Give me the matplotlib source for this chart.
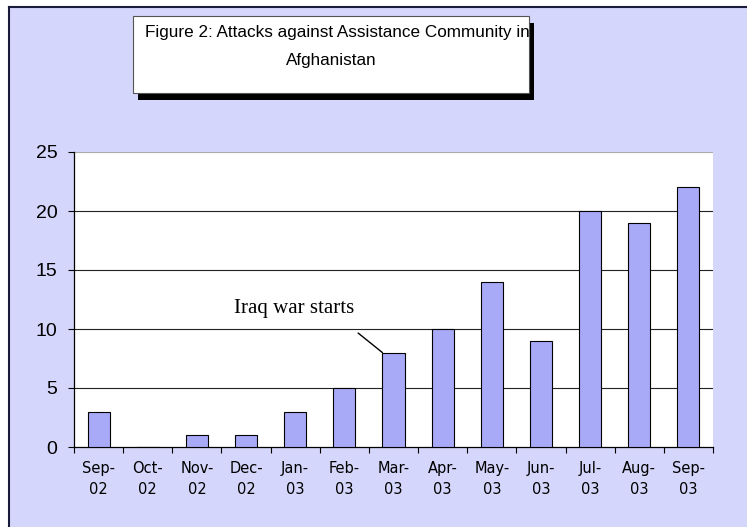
import matplotlib
matplotlib.use('Agg')
import matplotlib.pyplot as plt
from matplotlib.patches import Rectangle
from matplotlib.lines import Line2D

W, H = 747, 527

months = ['Sep-\n02', 'Oct-\n02', 'Nov-\n02', 'Dec-\n02', 'Jan-\n03', 'Feb-\n03', 'Mar-\n03',
          'Apr-\n03', 'May-\n03', 'Jun-\n03', 'Jul-\n03', 'Aug-\n03', 'Sep-\n03']
attacks = [3, 0, 1, 1, 3, 5, 8, 10, 14, 9, 20, 19, 22]
y_ticks = [0, 5, 10, 15, 20, 25]

title_1 = 'Figure 2: Attacks against Assistance Community in'
title_2 = 'Afghanistan'
note = 'Iraq war starts'
note_idx = 6  # Mar-03

BG = '#D5D6FB'
BAR = '#A8AAF8'


def px(x, y):
    # pixel (from top-left) -> figure fraction
    return x / W, 1 - y / H


fig = plt.figure(figsize=(W / 100, H / 100), dpi=100)
fig.patch.set_facecolor('white')

# lavender panel with dark border on left/top
x0, y0 = px(9, H)
fig.patches.append(Rectangle((x0, y0), 1 - x0, 1 - 7 / H - y0, transform=fig.transFigure,
                             facecolor=BG, edgecolor='none', zorder=-3))
fig.add_artist(Line2D([9 / W, 9 / W], [0, 1 - 7 / H], transform=fig.transFigure,
                      color='#1a1a3a', lw=1.5, zorder=-2))
fig.add_artist(Line2D([9 / W, 1], [1 - 7 / H, 1 - 7 / H], transform=fig.transFigure,
                      color='#1a1a3a', lw=1.5, zorder=-2))

# title box with shadow
bx, by = px(133, 93)
bw, bh = 396 / W, 77 / H
fig.patches.append(Rectangle((bx + 5 / W, by - 7 / H), bw, bh, transform=fig.transFigure,
                             facecolor='black', edgecolor='none', zorder=-2))
fig.patches.append(Rectangle((bx, by), bw, bh, transform=fig.transFigure,
                             facecolor='white', edgecolor='#555555', lw=0.8, zorder=-1))
fig.text(337 / W, 1 - 33 / H, title_1, ha='center', va='center', fontsize=12.3,
         family='Liberation Sans', zorder=3)
fig.text(331 / W, 1 - 61 / H, title_2, ha='center', va='center', fontsize=12.3,
         family='Liberation Sans', zorder=3)

ax = fig.add_axes([74 / W, 1 - 447 / H, 639 / W, 295 / H])
ax.set_zorder(5)
ax.set_facecolor('white')

xs = list(range(len(attacks)))
ax.bar(xs, attacks, width=0.45, color=BAR, edgecolor='black', linewidth=0.8, zorder=3)

ax.set_xlim(-0.5, len(attacks) - 0.5)
ax.set_ylim(0, 25)
ax.set_yticks(y_ticks)
for v in y_ticks[1:]:
    ax.axhline(v, color='#aaaaaa' if v == 25 else '#222222', lw=0.8, zorder=1)

ax.set_xticks(xs)
ax.set_xticklabels(months, fontsize=10.5, family='DejaVu Sans', linespacing=1.5)
ax.set_xticks([i - 0.5 for i in range(len(attacks) + 1)], minor=True)
ax.tick_params(axis='x', which='major', length=0, pad=10)
ax.tick_params(axis='x', which='minor', length=4, width=0.8, direction='out')
ax.tick_params(axis='y', length=4, width=0.8, direction='out', pad=8, labelsize=14)
for lab in ax.get_yticklabels():
    lab.set_family('Liberation Sans')

for s in ['top', 'right']:
    ax.spines[s].set_visible(False)
for s in ['left', 'bottom']:
    ax.spines[s].set_linewidth(0.9)
    ax.spines[s].set_color('black')

ax.annotate('', xy=(note_idx - 0.225, attacks[note_idx]), xytext=(5.28, 9.66),
            arrowprops=dict(arrowstyle='-', color='black', lw=1.0, shrinkA=0, shrinkB=0),
            zorder=4)
ax.text(2.755, 11.36, note, fontsize=15, family='Liberation Serif', ha='left',
        va='baseline', zorder=4)

fig.savefig('out.png', dpi=100, facecolor=fig.get_facecolor())
